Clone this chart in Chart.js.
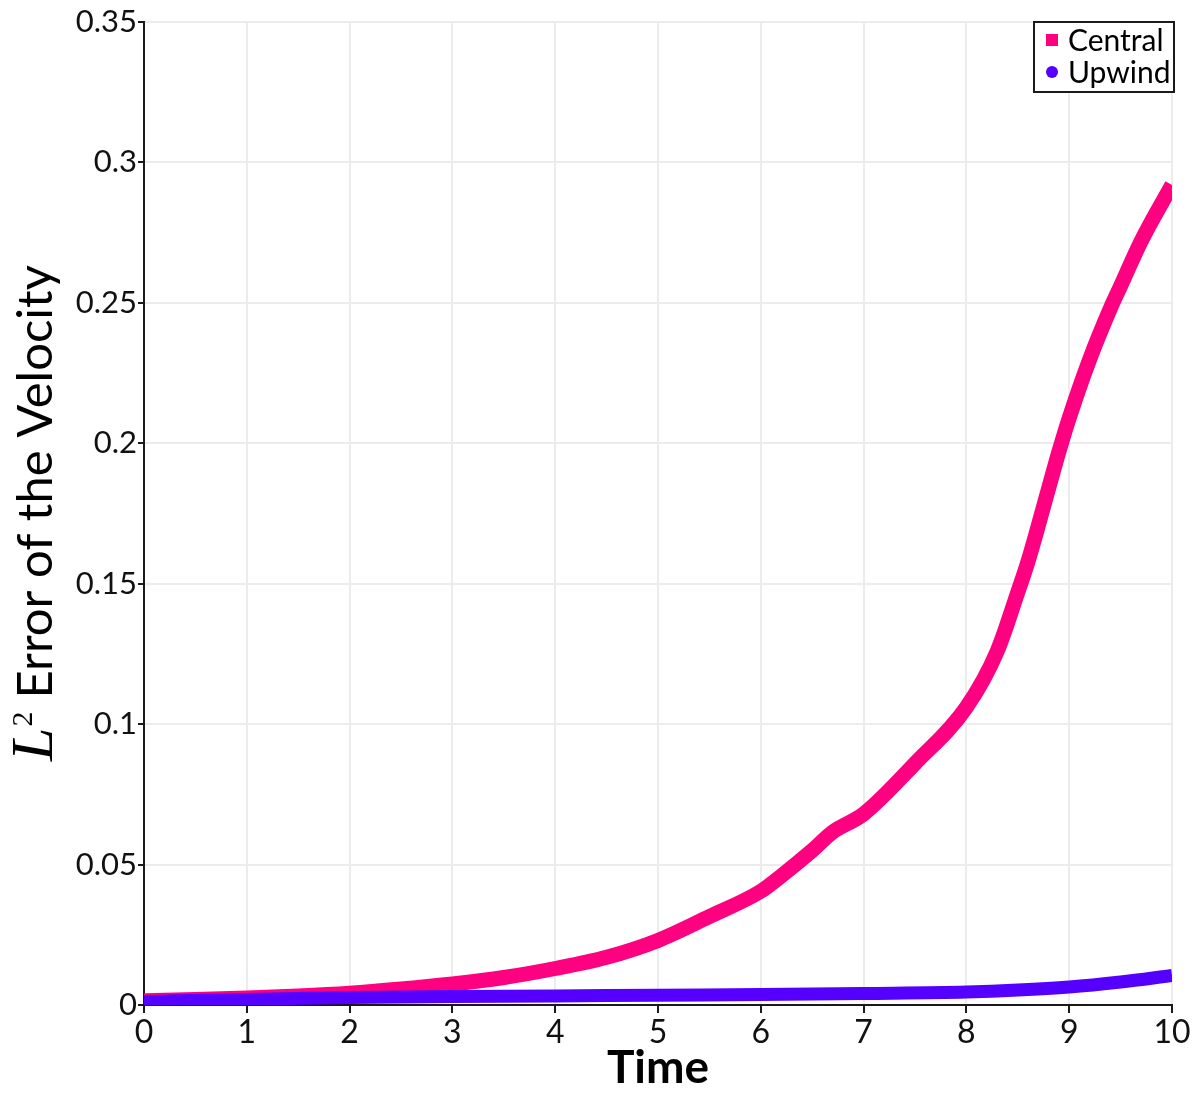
<!DOCTYPE html>
<html>
<head>
<meta charset="utf-8">
<script src="https://cdn.jsdelivr.net/npm/chart.js@4/dist/chart.umd.min.js"></script>
<style>
  html, body { margin: 0; padding: 0; background: #fff; }
  #wrap { width: 1196px; height: 1101px; position: relative; }
</style>
</head>
<body>
<div id="wrap"><canvas id="err-chart"></canvas></div>
<script>
'use strict';

// Time samples and L2 velocity error
var centralT = [0, 0.5, 1, 1.5, 2, 2.5, 3, 3.5, 4, 4.5, 5, 5.5, 6, 6.2, 6.5, 6.7, 7, 7.5, 8, 8.3, 8.5, 8.6, 8.8, 8.9, 9, 9.2, 9.4, 9.5, 9.7, 10];
var centralErr = [0.0015, 0.002, 0.0025, 0.0032, 0.0042, 0.0057, 0.0075, 0.0098, 0.013, 0.017, 0.023, 0.0315, 0.0405, 0.046, 0.055, 0.0616, 0.068, 0.086, 0.106, 0.126, 0.147, 0.158, 0.184, 0.197, 0.209, 0.23, 0.248, 0.256, 0.272, 0.292];
var upwindT = [0, 1, 2, 3, 4, 5, 6, 7, 8, 8.5, 9, 9.5, 10];
var upwindErr = [0.0012, 0.002, 0.0027, 0.003, 0.0032, 0.0035, 0.0037, 0.0041, 0.0046, 0.0053, 0.0064, 0.0082, 0.0105];
var xTicks = [0, 1, 2, 3, 4, 5, 6, 7, 8, 9, 10];
var yTicks = [0, 0.05, 0.1, 0.15, 0.2, 0.25, 0.3, 0.35];

var PINK = '#ff0080', VIOLET = '#5500ff', INK = '#1a1a1a', GRID = '#ececec';
var SANS = 'Lato, "Open Sans", sans-serif';
var SERIF = '"Liberation Serif", "DejaVu Serif", serif';

function pts(xs, ys) {
  return xs.map(function (x, i) { return { x: x, y: ys[i] }; });
}

// axis titles + boxed legend drawn on the canvas
var decor = {
  id: 'decor',
  afterDraw: function (chart) {
    var ctx = chart.ctx, a = chart.chartArea;
    ctx.save();
    ctx.fillStyle = '#000';

    // x title
    ctx.font = 'bold 46px ' + SANS;
    ctx.textAlign = 'center';
    ctx.textBaseline = 'alphabetic';
    ctx.fillText('Time', (a.left + a.right) / 2, 1083);

    // y title: italic L with superscript 2, then sans text
    ctx.save();
    ctx.translate(52, 513);
    ctx.rotate(-Math.PI / 2);
    ctx.textAlign = 'left';
    var fL = 'italic 60px ' + SERIF, f2 = '30px ' + SERIF, fT = '49px ' + SANS;
    var txt = 'Error of the Velocity';
    ctx.font = fL; var wL = ctx.measureText('L').width;
    ctx.font = f2; var w2 = ctx.measureText('2').width;
    ctx.font = fT; var wT = ctx.measureText(txt).width;
    var gap = 14;
    var x0 = -(wL + w2 + gap + wT) / 2;
    ctx.font = fL; ctx.fillText('L', x0, 0);
    ctx.font = f2; ctx.fillText('2', x0 + wL + 1, -20);
    ctx.font = fT; ctx.fillText(txt, x0 + wL + w2 + gap, 0);
    ctx.restore();

    // legend box in the top right corner
    var ds = chart.data.datasets;
    var bw = 140, bh = 70, bx = a.right - bw + 2, by = a.top;
    ctx.fillStyle = '#fff';
    ctx.fillRect(bx, by, bw, bh);
    ctx.strokeStyle = INK;
    ctx.lineWidth = 2;
    ctx.strokeRect(bx, by, bw, bh);
    ctx.font = '30px ' + SANS;
    ctx.textAlign = 'left';
    ctx.textBaseline = 'middle';
    ds.forEach(function (d, i) {
      var cy = by + 18 + i * 32, cx = bx + 18;
      ctx.fillStyle = d.borderColor;
      if (d.pointStyle === 'circle') {
        ctx.beginPath(); ctx.arc(cx, cy, 6, 0, Math.PI * 2); ctx.fill();
      } else {
        ctx.fillRect(cx - 6, cy - 6, 12, 12);
      }
      ctx.fillStyle = '#000';
      ctx.fillText(d.label, cx + 16, cy + 1);
    });
    ctx.restore();
  }
};

new Chart(document.getElementById('err-chart').getContext('2d'), {
  type: 'line',
  data: {
    datasets: [
      { label: 'Central', data: pts(centralT, centralErr), borderColor: PINK, backgroundColor: PINK,
        borderWidth: 15, pointRadius: 0, tension: 0.4, cubicInterpolationMode: 'monotone',
        fill: false, order: 2, pointStyle: 'rect' },
      { label: 'Upwind', data: pts(upwindT, upwindErr), borderColor: VIOLET, backgroundColor: VIOLET,
        borderWidth: 13, pointRadius: 0, tension: 0.4, cubicInterpolationMode: 'monotone',
        fill: false, order: 1, pointStyle: 'circle' }
    ]
  },
  options: {
    responsive: true, maintainAspectRatio: false, animation: false,
    layout: { padding: { left: 0, right: 24, top: 22, bottom: 0 } },
    plugins: { legend: { display: false }, tooltip: { enabled: false } },
    scales: {
      x: {
        type: 'linear', min: 0, max: 10,
        afterFit: function (s) { s.height = 96; },
        afterBuildTicks: function (s) { s.ticks = xTicks.map(function (v) { return { value: v }; }); },
        grid: { color: GRID, lineWidth: 2, tickLength: 8, tickColor: INK, tickWidth: 2 },
        border: { color: INK, width: 2 },
        ticks: { color: '#111', padding: 0, font: { family: SANS, size: 32 }, maxRotation: 0 }
      },
      y: {
        min: 0, max: 0.35,
        afterFit: function (s) { s.width = 144; },
        afterBuildTicks: function (s) { s.ticks = yTicks.map(function (v) { return { value: v }; }); },
        grid: { color: GRID, lineWidth: 2, tickLength: 6, tickColor: INK, tickWidth: 2 },
        border: { color: INK, width: 2 },
        ticks: { color: '#111', padding: 1, font: { family: SANS, size: 31 },
          callback: function (v) { return String(+v.toFixed(2)); } }
      }
    }
  },
  plugins: [decor]
});
</script>
</body>
</html>
